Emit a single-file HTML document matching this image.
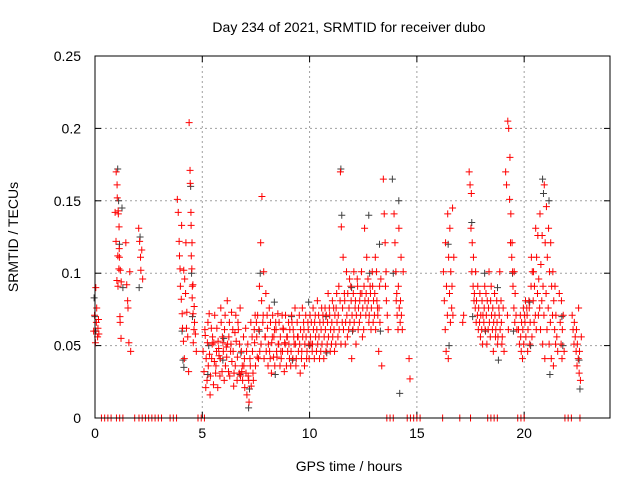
<!DOCTYPE html>
<html><head><meta charset="utf-8"><style>
html,body{margin:0;padding:0;background:#fff;}
svg{display:block;font-family:"Liberation Sans",sans-serif;}
</style></head><body>
<svg id="chart" width="640" height="480">
<text x="349" y="32" font-size="14" text-anchor="middle">Day 234 of 2021, SRMTID for receiver dubo</text>
<text x="349" y="471" font-size="14" text-anchor="middle">GPS time / hours</text>
<text transform="translate(18,237) rotate(-90)" font-size="14" text-anchor="middle">SRMTID / TECUs</text>
<g id="grid"></g><g id="ticks"></g><g id="blackPts"></g><g id="redPts"></g>
<rect x="95" y="56" width="515" height="362" fill="none" stroke="#000" stroke-width="1"/>
</svg>
<script>
const xTicks=[0,5,10,15,20];
const yTicks=[0,0.05,0.1,0.15,0.2,0.25];
const yTickLabels=["0","0.05","0.1","0.15","0.2","0.25"];
// rows: [time, values...]
const redRows=[
[0.0,.06,.071,.052,.066],[0.1,.09,.076,.056,.068],[0.2,.062,.058],
[1.0,.142,.122,.095,.112],[1.05,.17,.161,.091,.103],[1.1,.152,.143,.132,.07],[1.15,.141,.117,.066,.055],[1.2,.111,.102,.094],
[1.5,.121,.092,.081],[1.6,.076,.052,.101,.046],
[2.1,.131,.122,.111],[2.2,.102,.116,.096],
[3.9,.151,.142,.122,.103],[4.0,.112,.091,.082,.072],[4.1,.133,.062,.053,.041],[4.2,.102,.096,.086,.062],[4.3,.121,.073,.056,.032],
[4.45,.204,.171,.142,.103],[4.5,.162,.133,.121,.092],[4.55,.112,.083,.072,.061],[4.6,.091,.052,.077],[4.7,.066,.058,.046],
[5.1,.046,.032,.061,.021],[5.2,.057,.041,.026,.066],[5.3,.052,.036,.072,.016],[5.4,.044,.029,.062,.051],[5.5,.041,.056,.023,.039],
[5.6,.052,.071,.031,.046],[5.7,.036,.062,.021,.048],[5.8,.053,.043,.029,.076],[5.9,.041,.066,.032,.052],[6.0,.056,.046,.026,.071],
[6.1,.061,.036,.049,.081],[6.2,.042,.051,.032,.066],[6.3,.056,.029,.046,.073],[6.4,.051,.039,.061,.022],[6.5,.046,.031,.059,.071],
[6.6,.036,.053,.026,.066],[6.7,.042,.061,.031,.076],[6.8,.051,.029,.046,.036],[6.9,.032,.026,.056,.041],[7.0,.036,.021,.062,.046],
[7.1,.031,.016,.051,.026],[7.2,.029,.011,.041,.066],[7.3,.036,.022,.056,.031],[7.4,.046,.026,.061,.071],[7.5,.052,.036,.066,.042],
[7.6,.056,.071,.041,.091],[7.7,.061,.046,.121,.081],[7.8,.051,.153,.066,.101],[7.9,.071,.041,.056,.086],[8.0,.056,.046,.071,.036],
[8.1,.062,.051,.076,.041],[8.2,.046,.066,.031,.056],[8.3,.052,.071,.042,.061],[8.4,.056,.036,.066,.046],[8.5,.061,.042,.072,.051],
[8.6,.051,.066,.036,.046],[8.7,.056,.041,.071,.062],[8.8,.046,.061,.032,.051],[8.9,.052,.071,.036,.056],[9.0,.056,.046,.066,.041],
[9.1,.051,.061,.036,.071],[9.2,.046,.066,.041,.056],[9.3,.061,.051,.076,.036],[9.4,.051,.041,.066,.056],[9.5,.056,.046,.071,.031],
[9.6,.051,.061,.041,.076],[9.7,.046,.056,.066,.036],[9.8,.061,.051,.071,.041],[9.9,.056,.046,.066,.051],[10.0,.061,.041,.071,.051],
[10.1,.056,.066,.046,.076],[10.2,.051,.061,.041,.071],[10.3,.066,.056,.046,.081],[10.4,.061,.051,.071,.041],[10.5,.056,.066,.046,.076],
[10.6,.061,.051,.071,.041],[10.7,.066,.056,.076,.046],[10.8,.061,.071,.051,.086],[10.9,.066,.056,.076,.046],[11.0,.071,.061,.051,.081],
[11.1,.066,.056,.076,.046],[11.2,.061,.071,.051,.086],[11.3,.076,.066,.056,.091],[11.4,.071,.061,.081,.051],[11.5,.17,.132,.066,.111],
[11.6,.076,.061,.086,.051],[11.7,.081,.066,.101,.056],[11.8,.071,.086,.061,.096],[11.9,.076,.066,.091,.041],[12.0,.081,.071,.061,.101],
[12.1,.086,.066,.076,.051],[12.2,.081,.071,.096,.061],[12.3,.091,.076,.066,.086],[12.4,.081,.071,.101,.056],[12.5,.086,.076,.061,.131],
[12.6,.091,.081,.071,.111],[12.7,.086,.076,.096,.066],[12.8,.081,.071,.091,.061],[12.9,.086,.076,.101,.066],[13.0,.091,.081,.071,.111],
[13.1,.086,.061,.101,.076],[13.2,.081,.071,.046,.091],[13.3,.076,.066,.096,.036],[13.5,.165,.141,.121,.101],[13.6,.091,.081,.071,.061],
[14.0,.141,.121,.101,.086],[14.1,.081,.071,.061,.131],[14.2,.091,.076,.066,.111],[14.3,.081,.071,.061,.101],[14.7,.041,.027],
[16.3,.101,.081,.061,.046],[16.4,.121,.091,.071,.041],[16.5,.141,.111,.086,.066],[16.6,.131,.101,.076,.145],[16.7,.091,.071,.111],
[17.2,.066,.071],[17.5,.17,.161,.131,.101],[17.6,.155,.121,.091,.081],[17.7,.111,.086,.076,.066],[17.8,.101,.081,.071,.061],
[17.9,.091,.076,.066,.056],[18.0,.086,.071,.061,.051],[18.1,.081,.071,.066,.091],[18.2,.076,.061,.086,.051],[18.3,.071,.081,.061,.101],
[18.4,.076,.066,.056,.091],[18.5,.081,.071,.061,.046],[18.6,.076,.066,.086,.056],[18.7,.071,.061,.081,.051],[18.8,.066,.056,.076,.101],
[18.9,.071,.061,.081,.051],[19.0,.066,.056,.076,.046],[19.2,.17,.161,.071,.061],[19.3,.205,.2,.151,.121],[19.4,.18,.141,.111,.101],
[19.5,.121,.091,.076,.066],[19.6,.101,.086,.071,.061],[19.8,.061,.051,.071,.046],[19.9,.056,.066,.041,.076],[20.0,.061,.051,.071,.081],
[20.1,.066,.056,.076,.046],[20.2,.071,.061,.081,.051],[20.3,.076,.066,.091,.056],[20.4,.111,.101,.081,.066],[20.5,.101,.091,.071,.061],
[20.6,.131,.111,.086,.071],[20.7,.126,.096,.076,.061],[20.8,.141,.106,.081,.051],[20.9,.126,.091,.071,.041],[21.0,.161,.121,.086,.061],
[21.1,.146,.111,.076,.051],[21.2,.131,.101,.066,.041],[21.3,.121,.091,.071,.036],[21.4,.101,.081,.061,.051],[21.5,.091,.071,.056,.046],
[21.7,.086,.066,.051,.041],[21.8,.081,.061,.071,.046],[22.3,.071,.061,.051],[22.4,.066,.056,.046,.036],[22.5,.061,.051,.041,.031],[22.6,.076,.046,.026,.056]
];
const blackRows=[
[0.0,.083,.07,.06],[1.1,.172,.15,.12],[1.3,.145,.09],[2.1,.09,.125],[4.1,.06,.04,.035],[4.5,.16,.1,.07],
[5.3,.03,.05],[6.0,.04,.055],[6.8,.03,.045],[7.2,.007,.02],[7.7,.06,.1],[8.4,.08,.03],[9.2,.07,.04],[10.0,.08,.05],
[10.8,.07,.045],[11.5,.172,.14],[12.0,.09,.06],[12.8,.14,.1],[13.3,.12,.06],[13.9,.165,.1],[14.2,.15,.017],
[16.5,.12,.05],[17.6,.135,.07],[18.2,.1,.06],[18.8,.09,.04],[19.5,.1,.06],[20.3,.08,.05],[20.9,.165,.155],
[21.2,.15,.03],[21.8,.07,.05],[22.6,.04,.02]
];
const zeroTimes=[0.3,0.45,0.6,0.75,1.0,1.15,1.3,1.85,2.05,2.2,2.35,2.5,2.65,2.8,2.95,3.1,3.5,3.65,3.8,4.8,4.95,5.1,
13.6,13.75,13.9,14.55,14.7,14.85,15.0,15.15,16.2,17.0,17.5,18.3,18.45,18.6,18.75,19.7,19.85,20.0,21.9,22.05,22.2,22.6];

const X0=95,X1=610,Y0=418,Y1=56,XMAX=24,YMAX=0.25;
const sx=t=>X0+t/XMAX*(X1-X0);
const sy=v=>Y0-v/YMAX*(Y0-Y1);
const NS="http://www.w3.org/2000/svg";
function mk(tag,attrs,parent){const e=document.createElementNS(NS,tag);for(const k in attrs)e.setAttribute(k,attrs[k]);parent.appendChild(e);return e;}
const grid=document.getElementById('grid'),ticks=document.getElementById('ticks');
xTicks.forEach(t=>{const x=sx(t);
 if(t>0){const g=mk('line',{x1:x,x2:x,y1:Y0,y2:Y1,stroke:'#a0a0a0','stroke-dasharray':'2,3'},grid);
 
 }
 mk('line',{x1:x,x2:x,y1:Y0,y2:Y0-6,stroke:'#000'},ticks);mk('line',{x1:x,x2:x,y1:Y1,y2:Y1+6,stroke:'#000'},ticks);
 const l=mk('text',{x:x,y:Y0+20,'font-size':14,'text-anchor':'middle'},ticks);l.textContent=String(t);
 
 
});
yTicks.forEach((v,i)=>{const y=sy(v);
 if(v>0&&v<YMAX){const g=mk('line',{x1:X0,x2:X1,y1:y,y2:y,stroke:'#a0a0a0','stroke-dasharray':'2,3'},grid);
 
 }
 mk('line',{x1:X0,x2:X0+6,y1:y,y2:y,stroke:'#000'},ticks);mk('line',{x1:X1,x2:X1-6,y1:y,y2:y,stroke:'#000'},ticks);
 const l=mk('text',{x:X0-14,y:y+5,'font-size':14,'text-anchor':'end'},ticks);l.textContent=yTickLabels[i];
 
 
});
function plus(g,t,v,color,name,dx){const x=sx(t)+(dx||0),y=sy(v);
 const p=mk('path',{d:`M${x-3.5},${y}h7M${x},${y-3.5}v7`,stroke:color,'stroke-width':1,fill:'none'},g);
 
 }
const bg=document.getElementById('blackPts'),rg=document.getElementById('redPts');
blackRows.forEach(r=>r.slice(1).forEach((v,i)=>plus(bg,r[0],v,'#404040','black-point',(i-1)*0.9)));
redRows.forEach(r=>r.slice(1).forEach((v,i)=>plus(rg,r[0],v,'#ff0000','red-point',(i-1.5)*0.9)));
zeroTimes.forEach(t=>plus(rg,t,0,'#ff0000','zero-point',0));
</script>
</body></html>
